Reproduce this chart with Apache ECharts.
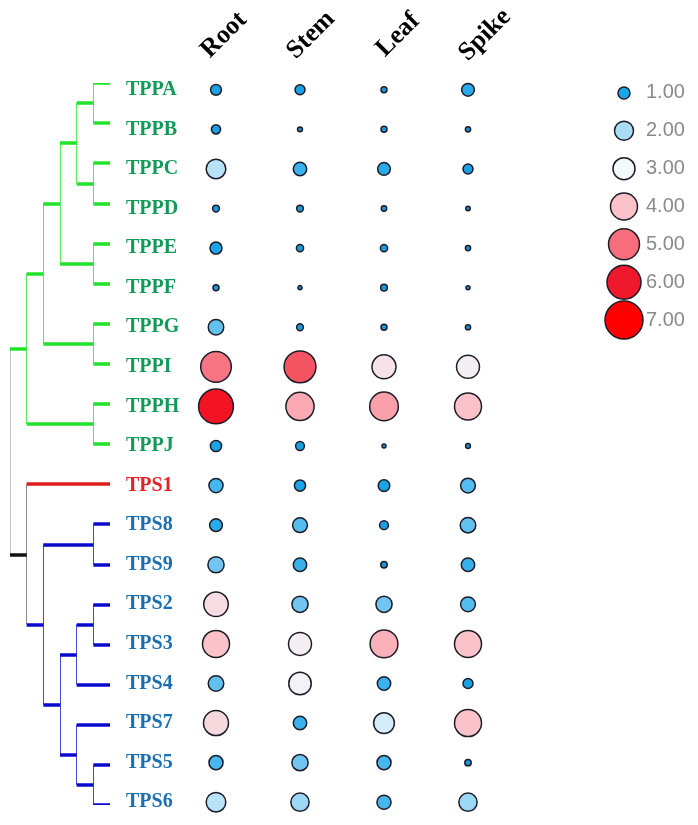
<!DOCTYPE html>
<html>
<head>
<meta charset="utf-8">
<script src="https://cdn.jsdelivr.net/npm/echarts@6/dist/echarts.min.js"></script>
<style>
html,body{margin:0;padding:0;background:#fff;}
#chart{width:698px;height:825px;}
</style>
</head>
<body>
<div id="chart"></div>
<script>
// ---------- data ----------
const genes = ['TPPA','TPPB','TPPC','TPPD','TPPE','TPPF','TPPG','TPPI','TPPH','TPPJ',
               'TPS1','TPS8','TPS9','TPS2','TPS3','TPS4','TPS7','TPS5','TPS6'];
const tissues = ['Root','Stem','Leaf','Spike'];
const rootVals  = [0.85,0.65,2.2,0.35,1.0,0.25,1.5,4.9,6.2,0.9,1.3,1.1,1.6,3.5,4.0,1.5,3.6,1.3,2.2];
const stemVals  = [0.75,0.12,1.2,0.35,0.4,0.02,0.35,5.3,4.3,0.6,0.9,1.4,1.2,1.6,3.2,3.1,1.2,1.6,1.9];
const leafVals  = [0.25,0.25,1.1,0.18,0.4,0.33,0.25,3.4,4.4,0.0,0.95,0.6,0.3,1.6,4.2,1.2,2.6,1.3,1.3];
const spikeVals = [1.1,0.15,0.75,0.05,0.15,0.0,0.15,3.2,4.0,0.1,1.4,1.5,1.2,1.4,4.0,0.75,4.0,0.3,1.9];
const legendValues = [1,2,3,4,5,6,7];

// tree topology (cladogram)
const greenClade = [[[[['TPPA','TPPB'],['TPPC','TPPD']],['TPPE','TPPF']],['TPPG','TPPI']],['TPPH','TPPJ']];
const blueClade  = [['TPS8','TPS9'],[[['TPS2','TPS3'],'TPS4'],['TPS7',['TPS5','TPS6']]]];
const tree = [greenClade, ['TPS1', blueClade]];

// ---------- mappings ----------
const sizeStops = [[0,4],[1,12],[2,19],[3,22],[4,27],[5,31],[6,34],[7,38]];
function sizeOf(v){
  if (v <= sizeStops[0][0]) return sizeStops[0][1];
  for (let i = 1; i < sizeStops.length; i++){
    const a = sizeStops[i-1], b = sizeStops[i];
    if (v <= b[0]) return a[1] + (b[1]-a[1])*(v-a[0])/(b[0]-a[0]);
  }
  return sizeStops[sizeStops.length-1][1];
}

const valueCols = [rootVals, stemVals, leafVals, spikeVals];
const bubbleData = [];
valueCols.forEach((arr, ci) => arr.forEach((v, ri) => bubbleData.push([ci, ri, v])));
const legendData = legendValues.map((v, i) => [0, i, v]);

// ---------- tree layout ----------
function layout(node){
  if (typeof node === 'string') return {y: genes.indexOf(node), h: 0, leaves: [node]};
  const ch = node.map(layout);
  return {
    y: (ch[0].y + ch[ch.length-1].y)/2,
    h: Math.max(...ch.map(c => c.h)) + 1,
    leaves: [].concat(...ch.map(c => c.leaves)),
    ch: ch
  };
}
function cladeOf(leaves){
  if (leaves.every(l => l.startsWith('TPP'))) return 'green';
  if (leaves.length === 1 && leaves[0] === 'TPS1') return 'red';
  if (leaves.every(l => l.startsWith('TPS') && l !== 'TPS1')) return 'blue';
  return 'mixed';
}
const hColors = {green:'#22e32a', red:'#e01b1b', blue:'#0a0acc', mixed:'#111111'};
const vColors = {green:'#5ee65e', red:'#e01b1b', blue:'#4a4ad8', mixed:'#8a8a8a'};
const rootInfo = layout(tree);
const maxH = rootInfo.h;
const vSegs = [], hSegs = [];
function walk(node, info, parentX){
  const x = maxH - info.h;
  const clade = cladeOf(info.leaves);
  if (parentX !== null){
    hSegs.push({coords: [[parentX, info.y], [x, info.y]],
                lineStyle: {color: hColors[clade], width: 3.5, opacity: 1}});
  }
  if (Array.isArray(node)){
    vSegs.push({coords: [[x, info.ch[0].y], [x, info.ch[info.ch.length-1].y]],
                lineStyle: {color: parentX === null ? '#c4c4c4' : vColors[clade], width: 1, opacity: 1}});
    node.forEach((c, i) => walk(c, info.ch[i], x));
  }
}
walk(tree, rootInfo, null);

function geneColor(name){
  if (name === 'TPS1') return '#e52127';
  if (name.startsWith('TPP')) return '#129a58';
  return '#1a6fb0';
}

// ---------- chart ----------
const chart = echarts.init(document.getElementById('chart'), null, {renderer: 'canvas'});
const option = {
  animation: false,
  backgroundColor: '#ffffff',
  grid: [
    {left: 10, width: 100, top: 83, height: 722},            // tree
    {left: 174, width: 336, top: 70, height: 752},           // bubbles
    {left: 180.5, width: 348, top: 48, height: 1},           // header labels
    {left: 604, width: 40, top: 74, height: 265}             // size legend
  ],
  xAxis: [
    {gridIndex: 0, type: 'value', min: 0, max: maxH, show: false},
    {gridIndex: 1, type: 'category', data: tissues, show: false},
    {gridIndex: 2, type: 'category', data: tissues, position: 'top',
     axisLine: {show: false}, axisTick: {show: false},
     axisLabel: {rotate: 45, align: 'center', verticalAlign: 'middle', margin: 13,
                 fontFamily: 'Liberation Serif', fontWeight: 'bold', fontSize: 26, color: '#000'}},
    {gridIndex: 3, type: 'category', data: ['size'], show: false}
  ],
  yAxis: [
    {gridIndex: 0, type: 'value', min: 0, max: genes.length - 1, inverse: true, show: false},
    {gridIndex: 1, type: 'category', data: genes, inverse: true,
     axisLine: {show: false}, axisTick: {show: false}, splitLine: {show: false},
     axisLabel: {align: 'left', margin: 48, fontFamily: 'Liberation Serif', fontWeight: 'bold',
                 fontSize: 20, color: (v) => geneColor(v)}},
    {gridIndex: 2, type: 'value', show: false},
    {gridIndex: 3, type: 'category', data: legendValues.map(v => v.toFixed(2)), inverse: true,
     position: 'right', axisLine: {show: false}, axisTick: {show: false}, splitLine: {show: false},
     axisLabel: {margin: 2, fontFamily: 'Liberation Sans', fontSize: 20, color: '#8a8a8a'}}
  ],
  visualMap: {
    type: 'continuous', show: false, min: 0, max: 7, dimension: 2, seriesIndex: [2, 3],
    inRange: {color: ['#1893d6','#1ba6ea','#aadcf6','#f2f8fc','#fbc2c9','#f76d7b','#f0182c','#ff0000']}
  },
  series: [
    {type: 'lines', coordinateSystem: 'cartesian2d', xAxisIndex: 0, yAxisIndex: 0,
     data: vSegs, silent: true, z: 1, lineStyle: {opacity: 1}},
    {type: 'lines', coordinateSystem: 'cartesian2d', xAxisIndex: 0, yAxisIndex: 0,
     data: hSegs, silent: true, z: 2, lineStyle: {opacity: 1}},
    {type: 'scatter', xAxisIndex: 1, yAxisIndex: 1, data: bubbleData,
     symbolSize: (d) => sizeOf(d[2]),
     itemStyle: {borderColor: '#1c1c28', borderWidth: 1.5, opacity: 1}},
    {type: 'scatter', xAxisIndex: 3, yAxisIndex: 3, data: legendData,
     symbolSize: (d) => sizeOf(d[2]),
     itemStyle: {borderColor: '#1c1c28', borderWidth: 1.5, opacity: 1}}
  ]
};
chart.setOption(option);
</script>
</body>
</html>
